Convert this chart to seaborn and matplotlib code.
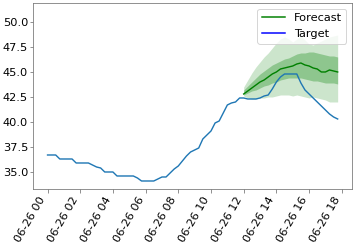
import matplotlib
matplotlib.use("Agg")
import matplotlib.pyplot as plt
import matplotlib.dates as mdates
from matplotlib.lines import Line2D
from matplotlib.ticker import MultipleLocator, FormatStrFormatter
import pandas as pd
import seaborn as sns

# target series, 15-minute steps from 06-26 00:00 to 17:45
target = [
    36.7, 36.7, 36.7, 36.3, 36.3, 36.3, 36.3, 35.9,
    35.9, 35.9, 35.9, 35.7, 35.5, 35.4, 35.0, 35.0,
    35.0, 34.6, 34.6, 34.6, 34.6, 34.6, 34.4, 34.1,
    34.1, 34.1, 34.1, 34.3, 34.5, 34.5, 34.9, 35.3,
    35.6, 36.1, 36.6, 37.0, 37.2, 37.4, 38.3, 38.7,
    39.1, 39.9, 40.1, 40.9, 41.7, 41.9, 42.0, 42.4,
    42.4, 42.3, 42.3, 42.3, 42.4, 42.6, 42.7, 43.3,
    44.0, 44.5, 44.8, 44.8, 44.8, 44.8, 43.9, 43.2,
    42.8, 42.4, 42.0, 41.6, 41.2, 40.8, 40.5, 40.3,
]

# forecast from 12:00 to 17:45
median = [
    42.8, 43.1, 43.4, 43.7, 44.0, 44.2, 44.5, 44.8,
    45.0, 45.3, 45.4, 45.5, 45.6, 45.8, 45.9, 45.7,
    45.6, 45.4, 45.3, 45.0, 45.0, 45.2, 45.1, 45.0,
]
upper50 = [
    43.2, 43.6, 44.0, 44.4, 44.8, 45.1, 45.4, 45.7,
    45.9, 46.1, 46.3, 46.4, 46.6, 46.8, 46.9, 46.9,
    47.0, 47.0, 46.9, 46.8, 46.7, 46.6, 46.6, 46.5,
]
lower50 = [
    42.7, 42.9, 43.1, 43.2, 43.4, 43.6, 43.7, 43.9,
    44.0, 44.2, 44.3, 44.4, 44.4, 44.4, 44.4, 44.3,
    44.2, 44.1, 44.1, 44.0, 43.9, 43.9, 43.9, 43.8,
]
upper90 = [
    43.5, 44.2, 44.9, 45.5, 46.0, 46.5, 46.9, 47.4,
    47.9, 48.3, 48.5, 48.3, 48.0, 48.3, 48.6, 48.2,
    47.8, 47.7, 47.9, 48.1, 48.3, 48.5, 48.6, 48.7,
]
lower90 = [
    42.6, 42.4, 42.3, 42.3, 42.4, 42.4, 42.5, 42.5,
    42.6, 42.7, 42.7, 42.7, 42.6, 42.7, 42.6, 42.5,
    42.4, 42.5, 42.4, 42.3, 42.2, 42.0, 42.0, 42.0,
]

t_index = pd.date_range("2020-06-26 00:00", periods=len(target), freq="15min")
f_index = pd.date_range("2020-06-26 12:00", periods=len(median), freq="15min")

df_target = pd.DataFrame({"time": t_index, "value": target})
df_fc = pd.DataFrame({"time": f_index, "median": median})

plt.rcParams["font.size"] = 11.4
dpi = 72
fig, ax = plt.subplots(figsize=(359 / dpi, 249 / dpi), dpi=dpi)

sns.lineplot(data=df_target, x="time", y="value", ax=ax, color="#1f77b4", linewidth=1.4)
ax.fill_between(f_index, lower90, upper90, color="g", alpha=0.2, linewidth=0)
ax.fill_between(f_index, lower50, upper50, color="g", alpha=0.3, linewidth=0)
sns.lineplot(data=df_fc, x="time", y="median", ax=ax, color="g", linewidth=1.4)

ax.set_ylim(33.3, 51.9)
ax.set_xlabel("")
ax.set_ylabel("")
ax.yaxis.set_major_locator(MultipleLocator(2.5))
ax.yaxis.set_major_formatter(FormatStrFormatter("%.1f"))
ax.xaxis.set_major_locator(mdates.HourLocator(byhour=range(0, 24, 2)))
ax.xaxis.set_major_formatter(mdates.DateFormatter("%m-%d %H"))
plt.setp(ax.get_xticklabels(), rotation=60, ha="right")
ax.tick_params(axis="y", length=3.5, pad=1.5, color="#777777")
ax.tick_params(axis="x", length=3.5, pad=2.5, color="#777777")
for s in ax.spines.values():
    s.set_color("#777777")

handles = [Line2D([0], [0], color="green", lw=1.5), Line2D([0], [0], color="blue", lw=1.5)]
ax.legend(handles, ["Forecast", "Target"], loc="upper right")

fig.subplots_adjust(left=0.092, right=0.981, top=0.988, bottom=0.241)
fig.savefig("out.png", dpi=dpi)
